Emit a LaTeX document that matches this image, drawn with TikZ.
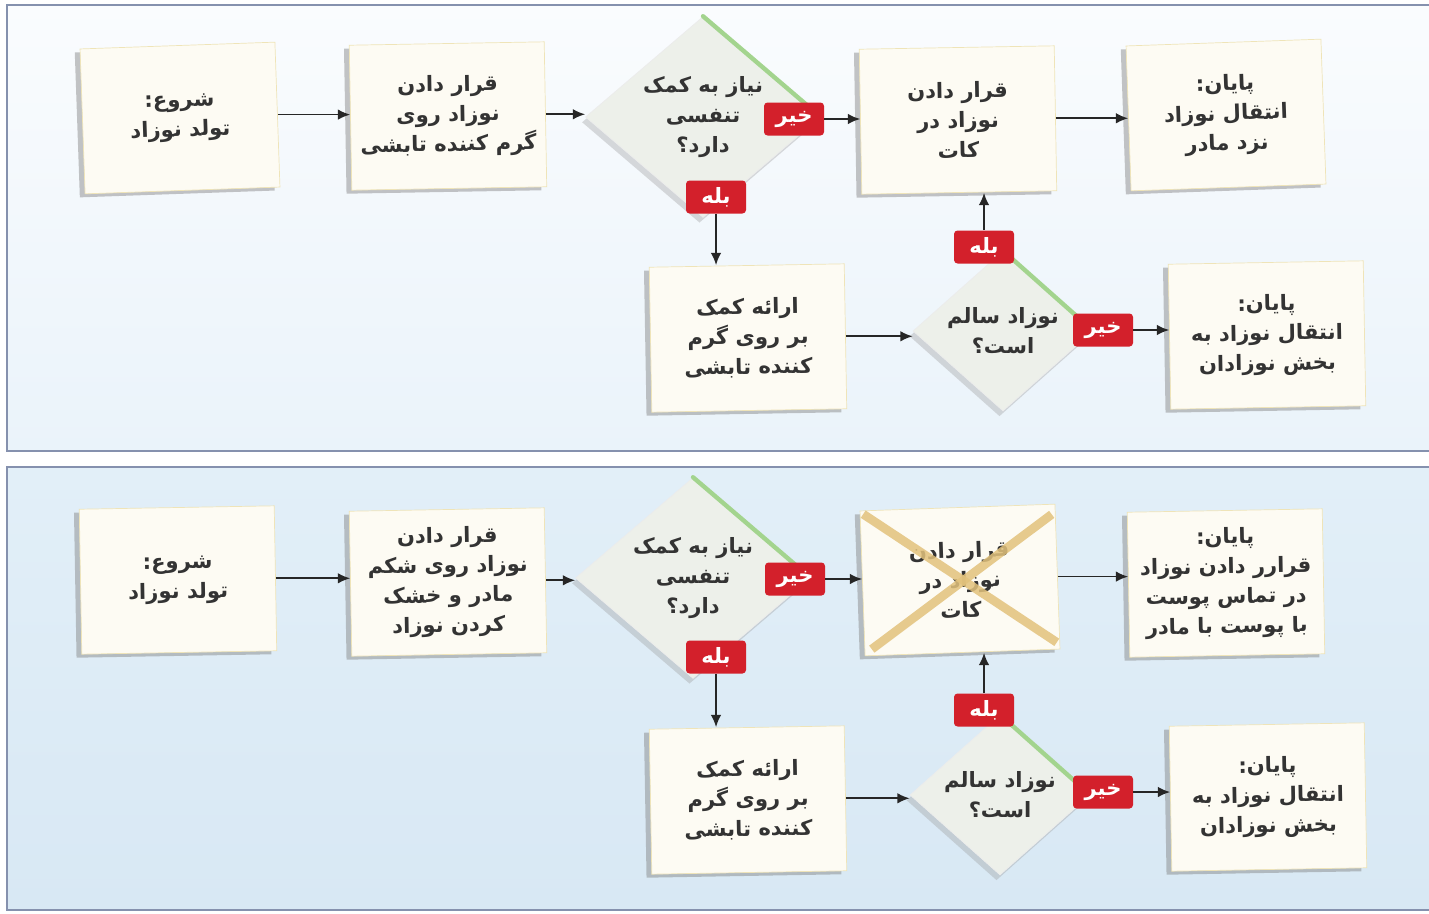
\documentclass[tikz,border=0pt]{standalone}
\usepackage{fontspec}
\usetikzlibrary{shapes.geometric,arrows.meta,shadows,positioning}
\newfontfamily\arabicfont[Script=Arabic]{DejaVu Sans}
\TeXXeTstate=1

\definecolor{panelline}{HTML}{8591AE}
\definecolor{paneltopA}{HTML}{FAFCFE}
\definecolor{panelbotA}{HTML}{EAF3FA}
\definecolor{paneltopB}{HTML}{E2EFF8}
\definecolor{panelbotB}{HTML}{D8E8F4}
\definecolor{notefill}{HTML}{FDFBF3}
\definecolor{noteedge}{HTML}{EFE4B8}
\definecolor{askfill}{HTML}{EDF0EA}
\definecolor{askgreen}{HTML}{A3D48E}
\definecolor{tagred}{HTML}{D3202B}
\definecolor{crossed}{HTML}{E2C27C}
\definecolor{textgray}{HTML}{333333}

\newcommand{\fatxt}[1]{\beginR #1\endR}

\begin{document}
\begin{tikzpicture}[x=0.02cm, y=-0.02cm,
    note/.style={draw=noteedge, fill=notefill, minimum width=3.9cm, minimum height=2.9cm,
        align=center, text=textgray, font=\arabicfont\bfseries\fontsize{12}{17}\selectfont,
        drop shadow={shadow xshift=-3pt, shadow yshift=-2pt, fill=black!50, opacity=0.45}},
    ask/.style={diamond, fill=askfill, draw=white!85!gray, inner sep=0pt, align=center,
        text=textgray, font=\arabicfont\bfseries\fontsize{12}{17}\selectfont,
        drop shadow={shadow xshift=-2pt, shadow yshift=-3pt, fill=black!40, opacity=0.35}},
    tag/.style={fill=tagred, rounded corners=2pt, text=white, minimum width=1.2cm,
        minimum height=0.66cm, inner sep=1pt, font=\arabicfont\bfseries\fontsize{12}{14}\selectfont},
    link/.style={-{Latex[length=7pt,width=6pt]}, line width=1pt, draw=black!85},
    greenedge/.style={askgreen, line width=2.5pt, line cap=round}]

    \useasboundingbox (0,0) rectangle (1429,913);

    % Panels
    \foreach \ptop/\pbot/\ctop/\cbot in {5/451/paneltopA/panelbotA, 467/910/paneltopB/panelbotB} {
        \draw[panelline, line width=1.4pt, top color=\ctop, bottom color=\cbot]
            (7,\ptop) rectangle (1450,\pbot);
    }

    % ---- Top flow ----
    \node[note, rotate=2] (start1) at (180,118) {\fatxt{شروع:}\\\fatxt{تولد نوزاد}};
    \node[note, rotate=1] (warm1) at (448,116) {\fatxt{قرار دادن}\\\fatxt{نوزاد روی}\\\fatxt{گرم کننده تابشی}};
    \node[ask, minimum width=4.7cm, minimum height=4cm] (ask1) at (703,117)
        {\fatxt{نیاز به کمک}\\\fatxt{تنفسی}\\\fatxt{دارد؟}};
    \draw[greenedge] (ask1.north) -- (ask1.east);
    \node[note, rotate=1] (cot1) at (958,120) {\fatxt{قرار دادن}\\\fatxt{نوزاد در}\\\fatxt{کات}};
    \node[note, rotate=2] (end1a) at (1226,115) {\fatxt{پایان:}\\\fatxt{انتقال نوزاد}\\\fatxt{نزد مادر}};
    \node[note, rotate=1] (help1) at (748,338) {\fatxt{ارائه کمک}\\\fatxt{بر روی گرم}\\\fatxt{کننده تابشی}};
    \node[ask, minimum width=3.6cm, minimum height=3.2cm] (ask2) at (1003,331)
        {\fatxt{نوزاد سالم}\\\fatxt{است؟}};
    \draw[greenedge] (ask2.north) -- (ask2.east);
    \node[note, rotate=1] (end1b) at (1267,335) {\fatxt{پایان:}\\\fatxt{انتقال نوزاد به}\\\fatxt{بخش نوزادان}};

    % answer tags
    \node[tag] (no1) at (794,119) {\fatxt{خیر}};
    \node[tag] (yes1) at (716,197) {\fatxt{بله}};
    \node[tag] (yes2) at (984,247) {\fatxt{بله}};
    \node[tag] (no2) at (1103,330) {\fatxt{خیر}};

    % arrows
    \draw[link] (start1.east) -- (start1.east -| warm1.west);
    \draw[link] (warm1.east) -- (warm1.east -| ask1.west);
    \draw[link] (no1.east) -- (no1.east -| cot1.west);
    \draw[link] (cot1.east) -- (cot1.east -| end1a.west);
    \draw[link] (yes1.south) -- (yes1.south |- help1.north);
    \draw[link] (help1.east) -- (help1.east -| ask2.west);
    \draw[link] (yes2.north) -- (yes2.north |- cot1.south);
    \draw[link] (no2.east) -- (no2.east -| end1b.west);

    % ---- Bottom flow ----
    \node[note, rotate=1] (start2) at (178,580) {\fatxt{شروع:}\\\fatxt{تولد نوزاد}};
    \node[note, rotate=1] (warm2) at (448,582) {\fatxt{قرار دادن}\\\fatxt{نوزاد روی شکم}\\\fatxt{مادر و خشک}\\\fatxt{کردن نوزاد}};
    \node[ask, minimum width=4.7cm, minimum height=4cm] (ask3) at (693,578)
        {\fatxt{نیاز به کمک}\\\fatxt{تنفسی}\\\fatxt{دارد؟}};
    \draw[greenedge] (ask3.north) -- (ask3.east);
    \node[note, rotate=2] (cot2) at (960,580) {\fatxt{قرار دادن}\\\fatxt{نوزاد در}\\\fatxt{کات}};
    \node[note, rotate=1] (end2a) at (1226,583) {\fatxt{پایان:}\\\fatxt{قرارر دادن نوزاد}\\\fatxt{در تماس پوست}\\\fatxt{با پوست با مادر}};
    \node[note, rotate=1] (help2) at (748,800) {\fatxt{ارائه کمک}\\\fatxt{بر روی گرم}\\\fatxt{کننده تابشی}};
    \node[ask, minimum width=3.6cm, minimum height=3.2cm] (ask4) at (1000,795)
        {\fatxt{نوزاد سالم}\\\fatxt{است؟}};
    \draw[greenedge] (ask4.north) -- (ask4.east);
    \node[note, rotate=1] (end2b) at (1268,797) {\fatxt{پایان:}\\\fatxt{انتقال نوزاد به}\\\fatxt{بخش نوزادان}};

    % cross over the cot step
    \draw[crossed, line width=5pt, opacity=0.85] ([shift={(2pt,-2pt)}]cot2.north west) -- ([shift={(-2pt,4pt)}]cot2.south east);
    \draw[crossed, line width=5pt, opacity=0.85] ([shift={(-2pt,-6pt)}]cot2.north east) -- ([shift={(4pt,4pt)}]cot2.south west);

    % answer tags
    \node[tag] (no3) at (795,579) {\fatxt{خیر}};
    \node[tag] (yes3) at (716,657) {\fatxt{بله}};
    \node[tag] (yes4) at (984,710) {\fatxt{بله}};
    \node[tag] (no4) at (1103,792) {\fatxt{خیر}};

    % arrows
    \draw[link] (start2.east) -- (start2.east -| warm2.west);
    \draw[link] (warm2.east) -- (warm2.east -| ask3.west);
    \draw[link] (no3.east) -- (no3.east -| cot2.west);
    \draw[link] (cot2.east) -- (cot2.east -| end2a.west);
    \draw[link] (yes3.south) -- (yes3.south |- help2.north);
    \draw[link] (help2.east) -- (help2.east -| ask4.west);
    \draw[link] (yes4.north) -- (yes4.north |- cot2.south);
    \draw[link] (no4.east) -- (no4.east -| end2b.west);

\end{tikzpicture}
\end{document}
